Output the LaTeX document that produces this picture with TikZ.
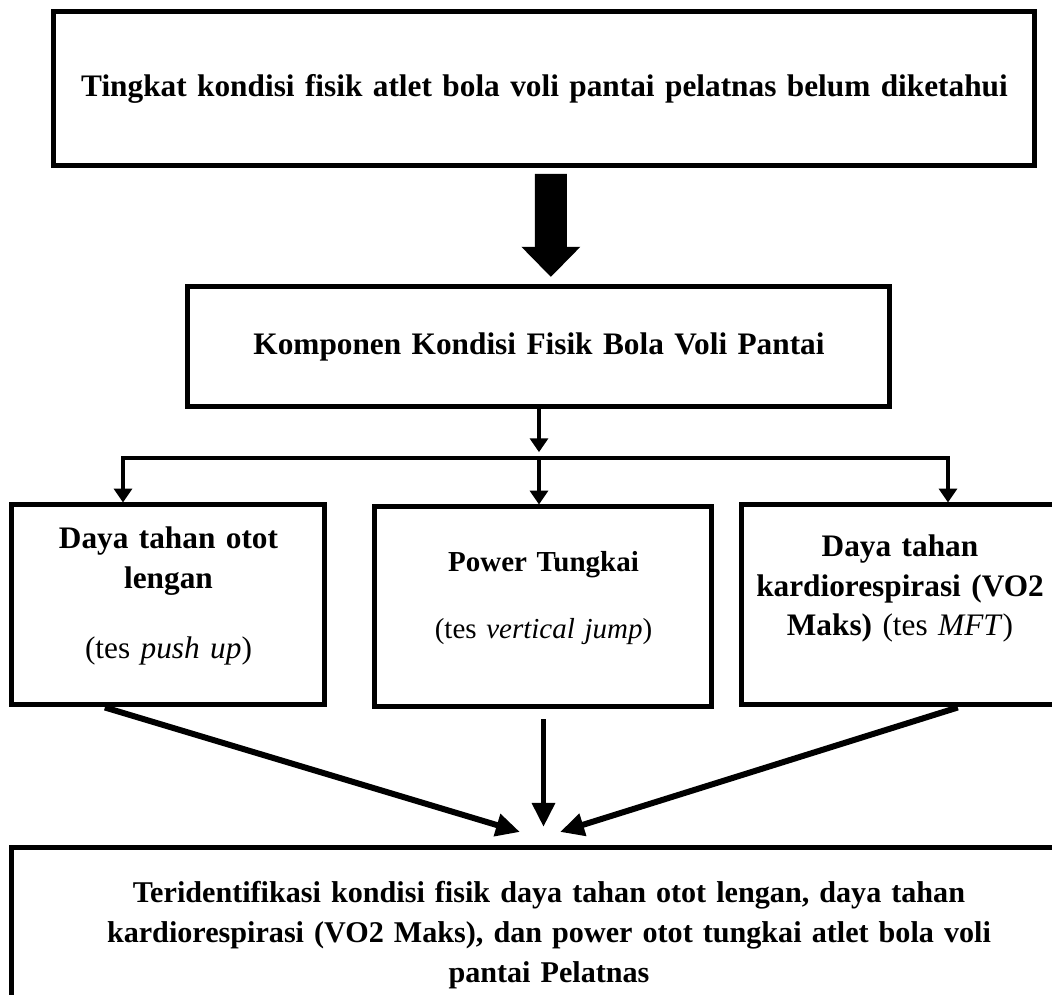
\documentclass[tikz,border=0pt]{standalone}
\usepackage{fontspec}
\setmainfont{Liberation Serif}
\usetikzlibrary{arrows.meta, positioning, calc}
\newlength{\px}
\setlength{\px}{0.345pt}

\begin{document}
\begin{tikzpicture}[
    x=0.345pt, y=-0.345pt,
    box/.style={rectangle, draw=black, line width=5\px, align=center, inner xsep=2pt, font=\fontsize{10.8}{13.6}\selectfont\bfseries},
    link/.style={-{Triangle[length=4.8pt, width=6.2pt]}, line width=3.5\px},
    split/.style={{Triangle[length=4.8pt, width=6.2pt]}-{Triangle[length=4.8pt, width=6.2pt]}, line width=3.5\px},
    flow/.style={-{Triangle[length=8.3pt, width=7.6pt]}, line width=6\px},
    bigarrow/.style={-{Triangle[length=10.4pt, width=19.7pt]}, line width=32\px}
]
\useasboundingbox (0,0) rectangle (1052,995);
\clip (0,0) rectangle (1052,995);

% Masalah
\node[box, minimum width=981\px, minimum height=154\px, text width=960\px] (masalah) at (544.5,89)
    {Tingkat kondisi fisik atlet bola voli pantai pelatnas belum diketahui};

% Komponen
\node[box, minimum width=702\px, minimum height=120\px, text width=680\px] (komp) at (539,347)
    {Komponen Kondisi Fisik Bola Voli Pantai};

% Tes
\node[box, minimum width=313\px, minimum height=200\px, text width=295\px] (lengan) at (168.5,605)
    {Daya tahan otot\\ lengan\\[31\px] {\mdseries (tes \textit{push up})}\\[-15\px] \mbox{}};
\node[box, minimum width=337\px, minimum height=200\px, text width=318\px,
      font=\fontsize{10}{13.6}\selectfont\bfseries] (tungkai) at (543.5,607)
    {Power Tungkai\\[27\px] {\mdseries (tes \textit{vertical jump})}\\[-15\px] \mbox{}};
\node[box, minimum width=316\px, minimum height=200\px, text width=300\px] (kardio) at (900,605)
    {Daya tahan\\ kardiorespirasi (VO2\\ Maks) {\mdseries (tes \textit{MFT})}\\ \mbox{}};

% Hasil
\node[box, minimum width=1074\px, minimum height=174\px, text width=1050\px,
      font=\fontsize{10.4}{13.8}\selectfont\bfseries] (hasil) at (549,935)
    {Teridentifikasi kondisi fisik daya tahan otot lengan, daya tahan\\
     kardiorespirasi (VO2 Maks), dan power otot tungkai atlet bola voli\\
     pantai Pelatnas};

% Arrows
\draw[bigarrow, shorten <=1.9pt, shorten >=2.6pt] ([xshift=2.2pt]masalah.south) -- ([xshift=4.1pt]komp.north);

\coordinate (barL) at (123,458);
\coordinate (barR) at (948,458);
\draw[link] (komp.south) -- ([yshift=2pt]komp.south |- barL);
\draw[split] (barL |- lengan.north) -- (barL) -- (barR) -- (barR |- kardio.north);
\draw[link] (komp.south |- barL) -- (komp.south |- tungkai.north);

\coordinate (tipL) at (520,832);
\coordinate (tipM) at (541,827);
\coordinate (tipR) at (560,832);
\draw[flow] ($(lengan.south west)!0.3!(lengan.south east)$) -- (tipL);
\draw[flow, shorten <=3.4pt] (tungkai.south) -- (tungkai.south |- tipM);
\draw[flow] ($(kardio.south west)!0.68!(kardio.south east)$) -- (tipR);
\end{tikzpicture}
\end{document}
